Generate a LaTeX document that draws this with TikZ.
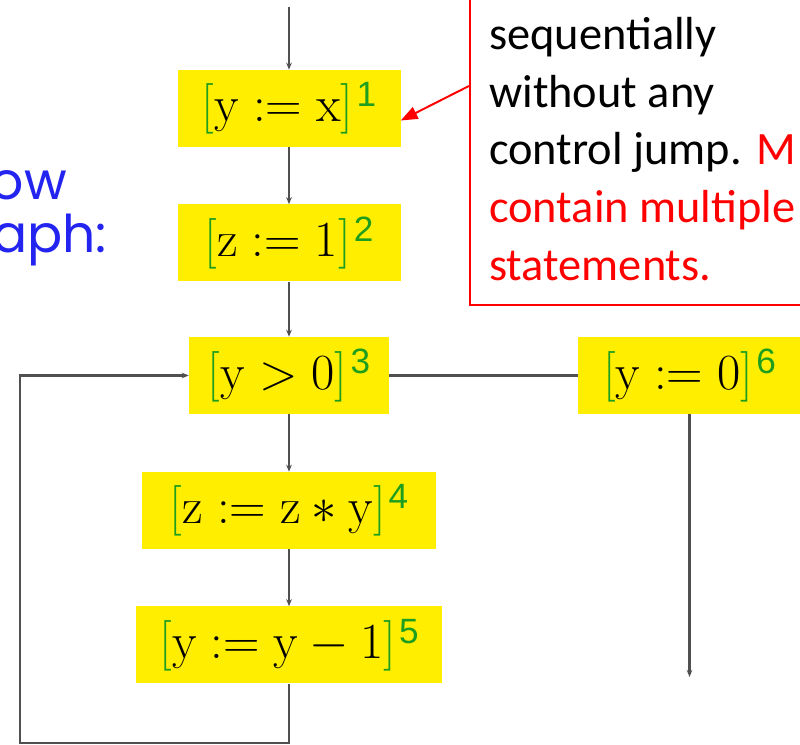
\RequirePackage{fix-cm}
\documentclass[tikz,border=0pt]{standalone}
\usepackage{fontspec}
\usetikzlibrary{arrows.meta}
\newfontfamily\notefont{Carlito}
\newfontfamily\headfont{Poppins}
\newfontfamily\labfont{Liberation Sans}
\definecolor{cfgYellow}{HTML}{FFEE00}
\definecolor{cfgGreen}{HTML}{1E9E1E}
\definecolor{cfgGray}{HTML}{505050}
\definecolor{noteRed}{HTML}{FF0000}
\definecolor{headBlue}{HTML}{2424F0}
\newcommand{\stmt}[2]{{\color{cfgGreen}[}#1{\color{cfgGreen}]}\kern0.06em
  \raisebox{0.3em}{\textcolor{cfgGreen}{\labfont\fontsize{25}{25}\selectfont #2}}}

\begin{document}
\begin{tikzpicture}[>={Stealth[length=5pt,width=4pt]},
    block/.style={fill=cfgYellow, minimum height=1.925cm, inner sep=0pt, font=\fontsize{36}{42}\selectfont},
    flow/.style={->, line width=1.6pt, draw=cfgGray},
    link/.style={line width=1.6pt, draw=cfgGray},
    notebox/.style={draw=noteRed, line width=1.2pt},
    notetext/.style={font=\notefont\fontsize{33}{41}\selectfont, align=left, inner sep=0pt},
    callout/.style={-{Triangle[length=0.42cm,width=0.32cm]}, line width=1.4pt, draw=noteRed},
    head/.style={font=\headfont\fontsize{37}{44}\selectfont, text=headBlue, anchor=base east, inner sep=0pt}]

  \useasboundingbox (0,0) rectangle (20,18.625);
  \clip (0,0) rectangle (20,18.625);

  % title, cut at the left
  \node[head] (h1) at (1.675,13.625) {ow};
  \node[head] (h2) at (2.675,12.3)   {aph:};

  % blocks of the flow graph
  \node[block, minimum width=5.575cm] (b1) at (7.225,15.9125) {$\stmt{\mathrm{y} := \mathrm{x}}{1}$};
  \node[block, minimum width=5.575cm] (b2) at (7.225,12.55)   {$\stmt{\mathrm{z} := 1}{2}$};
  \node[block, minimum width=5.0cm]   (b3) at (7.225,9.2375)  {$\stmt{\mathrm{y} > 0}{3}$};
  \node[block, minimum width=7.35cm]  (b4) at (7.225,5.8625)  {$\stmt{\mathrm{z} := \mathrm{z} * \mathrm{y}}{4}$};
  \node[block, minimum width=7.65cm]  (b5) at (7.225,2.5)     {$\stmt{\mathrm{y} := \mathrm{y} - 1}{5}$};
  \node[block, minimum width=5.575cm] (b6) at (17.2375,9.2375) {$\stmt{\mathrm{y} := 0}{6}$};

  \coordinate (entry) at (7.225,18.45);
  \coordinate (exit)  at (17.2375,1.7);
  \coordinate (back)  at (0.5,0.05);

  \foreach \a/\b in {entry/b1,b1/b2,b2/b3,b3/b4,b4/b5} {
    \draw[flow] (\a) -- (\b);
  }
  \draw[link] (b3) -- (b6);
  \draw[flow] (b6) -- (exit);
  \draw[flow] (b5.south) |- (back) |- (b3.west);

  % callout
  \node[notebox, minimum width=12cm, minimum height=10cm, anchor=south west] (box) at (11.725,10.975) {};
  \coordinate (tail) at (11.725,16.475);
  \draw[callout] (tail) -- ([yshift=-0.3cm]b1.east);
  \node[notetext, anchor=north west] (txt) at (12.225,18.2)
    {sequentially\\without any\\control jump. \textcolor{noteRed}{M}\\
     \textcolor{noteRed}{contain multiple}\\\textcolor{noteRed}{statements.}};
\end{tikzpicture}
\end{document}
